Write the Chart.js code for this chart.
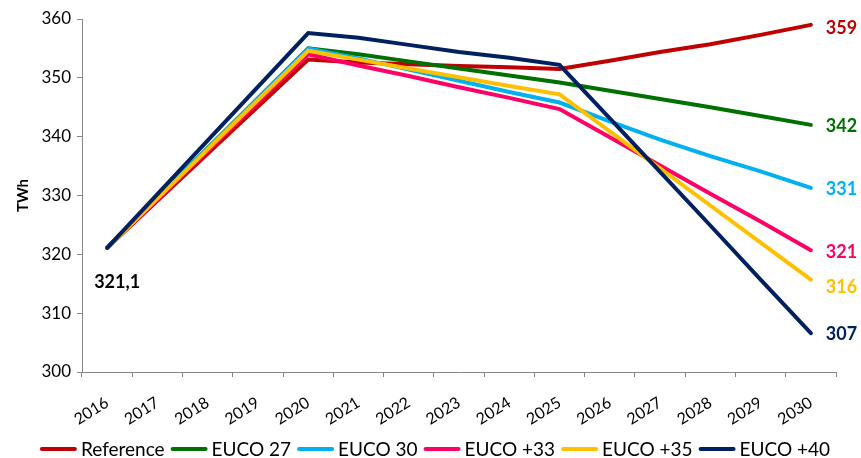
<!DOCTYPE html>
<html>
<head>
<meta charset="utf-8">
<script src="https://cdn.jsdelivr.net/npm/chart.js@4.4.1/dist/chart.umd.min.js"></script>
<style>
  html, body { margin: 0; padding: 0; background: #ffffff; }
  #wrap { width: 861px; height: 458px; position: relative; }
</style>
</head>
<body>
<div id="wrap"><canvas id="chart" width="861" height="458"></canvas></div>
<script>
// Electricity demand scenarios, TWh
const years = ['2016','2017','2018','2019','2020','2021','2022','2023','2024','2025','2026','2027','2028','2029','2030'];
const seriesNames = ['Reference', 'EUCO 27', 'EUCO 30', 'EUCO +33', 'EUCO +35', 'EUCO +40'];
const reference = [321.1, null, null, null, 353.1, 352.6, 352.3, 352.0, 351.8, 351.5, 352.9, 354.4, 355.7, 357.3, 359.0];
const euco27    = [321.1, null, null, null, 355.0, 354.0, 352.8, 351.6, 350.4, 349.2, 347.8, 346.4, 345.0, 343.5, 342.0];
const euco30    = [321.1, null, null, null, 355.0, 353.3, 351.4, 349.5, 347.6, 345.8, 342.6, 339.5, 336.7, 334.1, 331.3];
const euco33    = [321.1, null, null, null, 354.0, 352.1, 350.3, 348.4, 346.6, 344.7, 339.9, 335.1, 330.3, 325.6, 320.7];
const euco35    = [321.1, null, null, null, 354.6, 353.1, 351.6, 350.1, 348.6, 347.2, 340.9, 334.6, 328.3, 322.0, 315.7];
const euco40    = [321.1, null, null, null, 357.6, 356.8, 355.6, 354.4, 353.4, 352.2, 343.1, 334.0, 324.9, 315.7, 306.6];
const yTicks = [300, 310, 320, 330, 340, 350, 360];

const seriesValues = [reference, euco27, euco30, euco33, euco35, euco40];
const seriesColors = ['#C00000', '#007000', '#00B0F0', '#FF0066', '#FFC000', '#002060'];
// small vertical nudges for the end-of-line value labels so they don't collide
const endLabelNudge = [3, 1, 1, 2, 8, 1];

const FONT = 'Lato, "Liberation Sans", Arial, sans-serif';
const AXIS_GREY = '#868686';

const datasets = seriesNames.map((name, i) => ({
  label: name,
  data: seriesValues[i],
  borderColor: seriesColors[i],
  backgroundColor: seriesColors[i],
  borderWidth: 4,
  pointRadius: 0,
  pointHoverRadius: 0,
  spanGaps: true,
  tension: 0,
  borderCapStyle: 'round',
  borderJoinStyle: 'miter',
  order: seriesNames.length - 1 - i   // later series painted on top
}));

// Value labels: the common starting value and each scenario's 2030 value
const valueLabels = {
  id: 'valueLabels',
  afterDatasetsDraw(chart) {
    const ctx = chart.ctx;
    const xs = chart.scales.x, ys = chart.scales.y;
    ctx.save();
    ctx.font = 'bold 18px ' + FONT;
    ctx.textBaseline = 'middle';
    ctx.textAlign = 'left';
    const last = years.length - 1;
    seriesValues.forEach((vals, i) => {
      const v = vals[last];
      const x = xs.getPixelForValue(last) + 15;
      const y = ys.getPixelForValue(v) + endLabelNudge[i];
      ctx.fillStyle = seriesColors[i];
      ctx.fillText(String(Math.round(v)), x, y);
    });
    const v0 = reference[0];
    ctx.fillStyle = '#000000';
    ctx.fillText(v0.toFixed(1).replace('.', ','), xs.getPixelForValue(0) - 13, ys.getPixelForValue(v0) + 34);
    ctx.restore();
  }
};

// Single-row legend along the bottom: line sample, short gap, series name
const lineLegend = {
  id: 'lineLegend',
  afterDraw(chart) {
    const ctx = chart.ctx;
    const sample = 37, gapText = 4, gapItem = 6, cy = 449;
    ctx.save();
    ctx.font = '19px ' + FONT;
    ctx.textBaseline = 'middle';
    ctx.textAlign = 'left';
    const items = chart.data.datasets.map(ds => ({
      label: ds.label, color: ds.borderColor, w: ctx.measureText(ds.label).width
    }));
    const total = items.reduce((s, it) => s + sample + gapText + it.w, 0) + gapItem * (items.length - 1);
    let x = 435 - total / 2;
    items.forEach(it => {
      ctx.strokeStyle = it.color;
      ctx.lineWidth = 4;
      ctx.lineCap = 'round';
      ctx.beginPath();
      ctx.moveTo(x + 2, cy);
      ctx.lineTo(x + sample - 2, cy);
      ctx.stroke();
      ctx.fillStyle = '#000000';
      ctx.fillText(it.label, x + sample + gapText, cy + 1);
      x += sample + gapText + it.w + gapItem;
    });
    ctx.restore();
  }
};

new Chart(document.getElementById('chart'), {
  type: 'line',
  data: { labels: years, datasets },
  plugins: [valueLabels, lineLegend],
  options: {
    responsive: false,
    animation: false,
    devicePixelRatio: 1,
    layout: { padding: { left: 0, right: 25, top: 19, bottom: 28 } },
    plugins: {
      tooltip: { enabled: false },
      legend: { display: false }
    },
    scales: {
      x: {
        type: 'category',
        offset: true,
        afterFit(scale) { scale.height = 58; },
        grid: { offset: true, drawOnChartArea: false, color: AXIS_GREY, tickLength: 5, tickColor: AXIS_GREY },
        border: { color: AXIS_GREY, width: 1 },
        ticks: {
          autoSkip: false, minRotation: 32, maxRotation: 32, padding: 16,
          color: '#000000', font: { family: FONT, size: 16 }
        }
      },
      y: {
        min: 300, max: 360,
        afterBuildTicks(scale) { scale.ticks = yTicks.map(v => ({ value: v })); },
        afterFit(scale) { scale.width = 82; },
        grid: { drawOnChartArea: false, color: AXIS_GREY, tickLength: 5, tickColor: AXIS_GREY },
        border: { color: AXIS_GREY, width: 1 },
        ticks: { color: '#000000', font: { family: FONT, size: 17 }, padding: 6 },
        title: {
          display: true, text: 'TWh', color: '#000000',
          font: { family: FONT, size: 15, weight: 'bold' }, padding: { top: 14, bottom: 0 }
        }
      }
    }
  }
});
</script>
</body>
</html>
